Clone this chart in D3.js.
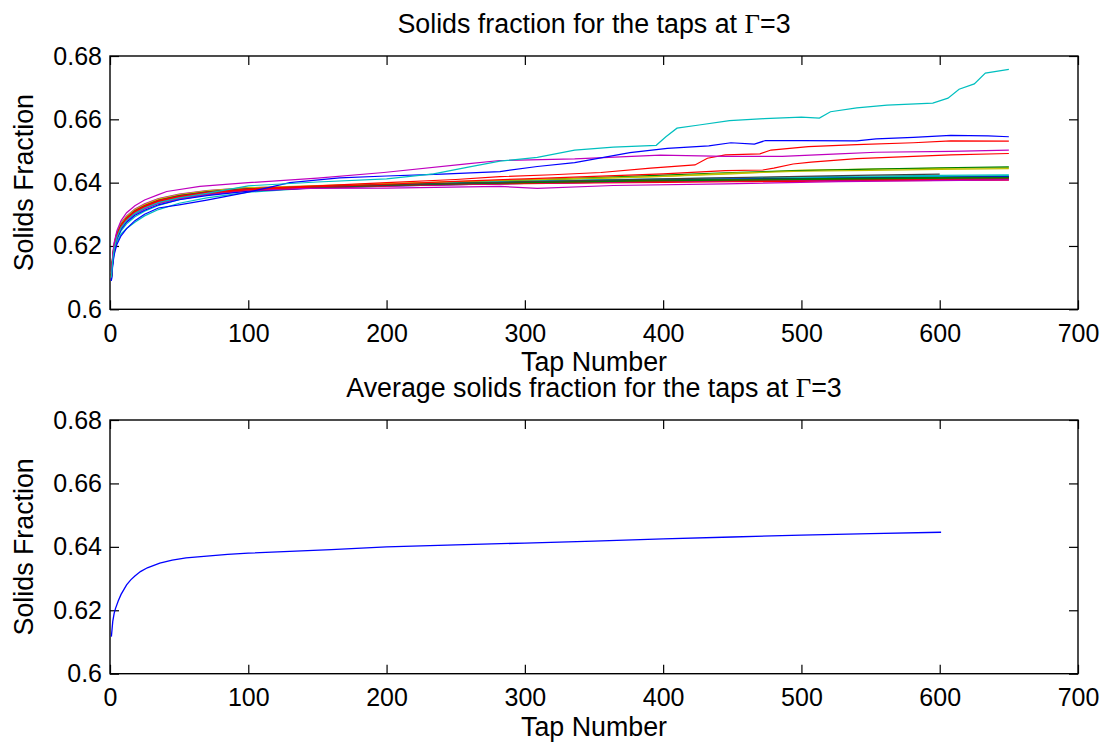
<!DOCTYPE html>
<html>
<head>
<meta charset="utf-8">
<script src="https://cdn.jsdelivr.net/npm/d3@7"></script>
<style>
  html, body { margin: 0; padding: 0; background: #fff; }
  text { font-family: "Liberation Sans", Arial, Helvetica, sans-serif; fill: #000; }
</style>
</head>
<body>
<svg id="chart" width="1104" height="744"></svg>
<script>
// taps shared by the bundle of runs
const bundleTaps = [1, 2, 3, 5, 8, 12, 18, 25, 35, 50, 70, 100, 150, 200, 250, 300, 350, 400, 450, 500, 550, 600, 650];

// runs that stay inside the bundle (colour name, values at bundleTaps)
const bundleRuns = [
  ["g", [0.6110, 0.6168, 0.6203, 0.6239, 0.6268, 0.6290, 0.6312, 0.6328, 0.6345, 0.6360, 0.6371, 0.6381, 0.6388, 0.6394, 0.6399, 0.6403, 0.6407, 0.6410, 0.6412, 0.6414, 0.6416, 0.6418, 0.6420]],
  ["r", [0.6100, 0.6162, 0.6199, 0.6236, 0.6266, 0.6288, 0.6310, 0.6326, 0.6343, 0.6358, 0.6369, 0.6379, 0.6386, 0.6391, 0.6396, 0.6399, 0.6402, 0.6405, 0.6407, 0.6409, 0.6411, 0.6412, 0.6414]],
  ["c", [0.6095, 0.6145, 0.6178, 0.6212, 0.6238, 0.6255, 0.6275, 0.6295, 0.6315, 0.6335, 0.6352, 0.6370, 0.6384, 0.6393, 0.6398, 0.6403, 0.6407, 0.6410, 0.6413, 0.6415, 0.6418, 0.6420, 0.6422]],
  ["m", [0.6115, 0.6172, 0.6208, 0.6243, 0.6273, 0.6295, 0.6317, 0.6333, 0.6350, 0.6364, 0.6375, 0.6384, 0.6389, 0.6393, 0.6396, 0.6399, 0.6401, 0.6403, 0.6405, 0.6406, 0.6407, 0.6409, 0.6410]],
  ["y", [0.6105, 0.6163, 0.6198, 0.6235, 0.6264, 0.6287, 0.6309, 0.6325, 0.6342, 0.6357, 0.6369, 0.6380, 0.6389, 0.6396, 0.6402, 0.6407, 0.6413, 0.6420, 0.6428, 0.6440, 0.6443, 0.6445, 0.6447]],
  ["k", [0.6102, 0.6157, 0.6193, 0.6230, 0.6260, 0.6283, 0.6305, 0.6321, 0.6338, 0.6353, 0.6365, 0.6376, 0.6385, 0.6391, 0.6396, 0.6400, 0.6404, 0.6407, 0.6410, 0.6412, 0.6414, 0.6416, 0.6418]],
  ["b", [0.6090, 0.6155, 0.6195, 0.6232, 0.6262, 0.6285, 0.6307, 0.6323, 0.6340, 0.6355, 0.6367, 0.6377, 0.6384, 0.6389, 0.6394, 0.6398, 0.6401, 0.6404, 0.6406, 0.6408, 0.6410, 0.6411, 0.6412]],
  ["g", [0.6108, 0.6158, 0.6191, 0.6228, 0.6258, 0.6281, 0.6303, 0.6319, 0.6336, 0.6351, 0.6364, 0.6376, 0.6386, 0.6394, 0.6401, 0.6408, 0.6416, 0.6424, 0.6432, 0.6438, 0.6443, 0.6447, 0.6450]],
  ["r", [0.6112, 0.6168, 0.6203, 0.6239, 0.6269, 0.6291, 0.6313, 0.6329, 0.6346, 0.6360, 0.6372, 0.6381, 0.6387, 0.6391, 0.6394, 0.6397, 0.6399, 0.6401, 0.6403, 0.6404, 0.6406, 0.6407, 0.6408]],
  ["c", [0.6098, 0.6152, 0.6186, 0.6220, 0.6248, 0.6270, 0.6292, 0.6310, 0.6328, 0.6346, 0.6361, 0.6376, 0.6388, 0.6395, 0.6401, 0.6405, 0.6409, 0.6412, 0.6415, 0.6418, 0.6421, 0.6423, 0.6425]],
  ["m", [0.6100, 0.6153, 0.6189, 0.6226, 0.6256, 0.6279, 0.6301, 0.6317, 0.6334, 0.6349, 0.6362, 0.6374, 0.6383, 0.6389, 0.6394, 0.6398, 0.6401, 0.6404, 0.6406, 0.6408, 0.6410, 0.6412, 0.6414]],
  ["y", [0.6113, 0.6170, 0.6205, 0.6241, 0.6271, 0.6293, 0.6315, 0.6331, 0.6348, 0.6362, 0.6374, 0.6384, 0.6391, 0.6397, 0.6403, 0.6409, 0.6414, 0.6420, 0.6430, 0.6436, 0.6439, 0.6442, 0.6444]],
  ["k", [0.6106, 0.6165, 0.6200, 0.6237, 0.6266, 0.6289, 0.6311, 0.6327, 0.6344, 0.6359, 0.6371, 0.6381, 0.6388, 0.6393, 0.6397, 0.6400, 0.6403, 0.6406, 0.6409, 0.6411, 0.6413, 0.6414, 0.6416]],
  ["b", [0.6092, 0.6148, 0.6184, 0.6222, 0.6252, 0.6275, 0.6297, 0.6313, 0.6330, 0.6346, 0.6359, 0.6373, 0.6384, 0.6391, 0.6397, 0.6401, 0.6405, 0.6408, 0.6411, 0.6413, 0.6415, 0.6417, 0.6419]],
  ["g", [0.6104, 0.6161, 0.6196, 0.6233, 0.6263, 0.6286, 0.6308, 0.6324, 0.6341, 0.6356, 0.6368, 0.6379, 0.6387, 0.6393, 0.6398, 0.6402, 0.6405, 0.6408, 0.6410, 0.6412, 0.6414, 0.6416, 0.6417]],
  ["r", [0.6101, 0.6157, 0.6192, 0.6229, 0.6259, 0.6282, 0.6304, 0.6320, 0.6337, 0.6352, 0.6365, 0.6376, 0.6384, 0.6390, 0.6395, 0.6398, 0.6402, 0.6405, 0.6407, 0.6409, 0.6410, 0.6411, 0.6412]],
  ["g", [0.6107, 0.6160, 0.6194, 0.6231, 0.6261, 0.6284, 0.6306, 0.6322, 0.6339, 0.6354, 0.6366, 0.6377, 0.6385, 0.6391, 0.6396, 0.6400, 0.6403, 0.6406, 0.6408, 0.6410, 0.6412, 0.6414, 0.6415]]
];

// runs that leave the bundle, each with its own taps
const grayTaps = [1, 2, 3, 5, 8, 12, 18, 25, 35, 50, 70, 100, 150, 200, 250, 300, 350, 400, 450, 500, 550, 600];
const grayRun = [0.6103, 0.6160, 0.6196, 0.6233, 0.6263, 0.6286, 0.6308, 0.6324, 0.6341, 0.6356, 0.6368, 0.6378, 0.6386, 0.6392, 0.6398, 0.6403, 0.6407, 0.6412, 0.6416, 0.6420, 0.6424, 0.6427];

const magLowTaps = [1, 2, 3, 5, 8, 12, 18, 25, 35, 50, 70, 100, 137, 200, 282, 309, 364, 445, 527, 650];
const magLowRun = [0.6102, 0.6158, 0.6193, 0.6230, 0.6260, 0.6283, 0.6305, 0.6321, 0.6338, 0.6353, 0.6365, 0.6376, 0.6382, 0.6383, 0.6388, 0.6382, 0.6391, 0.6396, 0.6403, 0.6409];

const red2Taps = [1, 2, 3, 5, 8, 12, 18, 25, 35, 50, 70, 100, 150, 200, 250, 300, 350, 400, 445, 472, 480, 494, 507, 540, 581, 608, 650];
const red2Run = [0.6098, 0.6158, 0.6194, 0.6231, 0.6262, 0.6285, 0.6307, 0.6323, 0.6340, 0.6355, 0.6367, 0.6378, 0.6387, 0.6395, 0.6404, 0.6412, 0.6420, 0.6428, 0.6438, 0.6440, 0.6446, 0.6459, 0.6465, 0.6476, 0.6483, 0.6488, 0.6492];

const red1Taps = [1, 2, 3, 5, 8, 12, 18, 25, 35, 50, 70, 100, 150, 200, 250, 282, 320, 355, 391, 423, 432, 445, 470, 478, 505, 540, 581, 608, 650];
const red1Run = [0.6105, 0.6163, 0.6198, 0.6236, 0.6265, 0.6288, 0.6310, 0.6326, 0.6343, 0.6357, 0.6369, 0.6380, 0.6390, 0.6400, 0.6410, 0.6419, 0.6425, 0.6432, 0.6446, 0.6456, 0.6477, 0.6488, 0.6491, 0.6503, 0.6514, 0.6520, 0.6526, 0.6532, 0.6531];

const magUpTaps = [1, 2, 3, 5, 8, 12, 18, 25, 35, 41, 65, 100, 150, 198, 258, 282, 336, 398, 445, 486, 527, 554, 608, 650];
const magUpRun = [0.6110, 0.6172, 0.6210, 0.6248, 0.6280, 0.6305, 0.6327, 0.6345, 0.6362, 0.6372, 0.6388, 0.6400, 0.6414, 0.6432, 0.6459, 0.6470, 0.6475, 0.6487, 0.6483, 0.6483, 0.6491, 0.6496, 0.6499, 0.6503];

const blueTaps = [1, 2, 3, 5, 8, 12, 18, 25, 35, 50, 70, 100, 130, 166, 200, 240, 282, 309, 336, 376, 403, 433, 449, 466, 474, 500, 540, 554, 581, 608, 635, 650];
const blueRun = [0.6090, 0.6140, 0.6172, 0.6205, 0.6232, 0.6255, 0.6280, 0.6300, 0.6320, 0.6330, 0.6345, 0.6370, 0.6400, 0.6415, 0.6421, 0.6427, 0.6435, 0.6451, 0.6463, 0.6495, 0.6508, 0.6516, 0.6526, 0.6522, 0.6533, 0.6533, 0.6532, 0.6538, 0.6543, 0.6549, 0.6548, 0.6545];

const cyanTaps = [1, 2, 3, 5, 8, 12, 18, 25, 35, 50, 70, 100, 150, 200, 234, 260, 282, 309, 336, 364, 395, 402, 410, 426, 448, 473, 500, 513, 521, 540, 562, 595, 606, 614, 625, 633, 650];
const cyanRun = [0.6100, 0.6155, 0.6190, 0.6228, 0.6258, 0.6281, 0.6303, 0.6320, 0.6337, 0.6352, 0.6366, 0.6390, 0.6402, 0.6412, 0.6428, 0.6450, 0.6468, 0.6480, 0.6503, 0.6512, 0.6518, 0.6545, 0.6572, 0.6582, 0.6596, 0.6602, 0.6607, 0.6604, 0.6624, 0.6636, 0.6645, 0.6651, 0.6667, 0.6695, 0.6712, 0.6746, 0.6758];

// average of the runs
const avgTaps = [1, 2, 3, 4, 6, 8, 10, 12, 15, 18, 22, 27, 36, 45, 55, 70, 85, 100, 130, 160, 200, 250, 300, 350, 400, 450, 500, 550, 601];
const avgValues = [0.6117, 0.6165, 0.6190, 0.6206, 0.6230, 0.6250, 0.6265, 0.6280, 0.6296, 0.6308, 0.6322, 0.6334, 0.6349, 0.6358, 0.6365, 0.6371, 0.6376, 0.6380, 0.6386, 0.6391, 0.6400, 0.6406, 0.6412, 0.6418, 0.6425, 0.6431, 0.6437, 0.6442, 0.6446];

// axis ticks
const xTicks = [0, 100, 200, 300, 400, 500, 600, 700];
const yTicks = [0.6, 0.62, 0.64, 0.66, 0.68];

// MATLAB colour order
const colors = { b: "#0000ff", g: "#008000", r: "#ff0000", c: "#00bfbf", m: "#bf00bf", y: "#bfbf00", k: "#404040" };

const svg = d3.select("#chart");
svg.append("rect").attr("width", 1104).attr("height", 744).attr("fill", "#fff");

const left = 110, right = 1078;
const tickFont = 25;
const labelFont = 26.8;

// draws one set of axes and returns its scales
function drawAxes(yTop, yBottom, title) {
    const x = d3.scaleLinear().domain([0, 700]).range([left, right]);
    const y = d3.scaleLinear().domain([0.6, 0.68]).range([yBottom, yTop]);
    const g = svg.append("g");

    const fmt = (d) => String(+d.toFixed(2));

    g.append("g")
        .attr("transform", `translate(0,${yBottom})`)
        .call(d3.axisBottom(x).tickValues(xTicks).tickSize(-9).tickPadding(15))
        .call(styleAxis);
    g.append("g")
        .attr("transform", `translate(0,${yTop})`)
        .call(d3.axisTop(x).tickValues(xTicks).tickSize(-9).tickFormat(""))
        .call(styleAxis);
    g.append("g")
        .attr("transform", `translate(${left},0)`)
        .call(d3.axisLeft(y).tickValues(yTicks).tickSize(-9).tickPadding(8).tickFormat(fmt))
        .call(styleAxis);
    g.append("g")
        .attr("transform", `translate(${right},0)`)
        .call(d3.axisRight(y).tickValues(yTicks).tickSize(-9).tickFormat(""))
        .call(styleAxis);

    // box
    g.append("rect")
        .attr("x", left).attr("y", yTop)
        .attr("width", right - left).attr("height", yBottom - yTop)
        .attr("fill", "none").attr("stroke", "#000").attr("stroke-width", 1.4);

    // title with the Greek Gamma in a serif face
    const t = g.append("text")
        .attr("x", (left + right) / 2).attr("y", yTop - 23)
        .attr("text-anchor", "middle").style("font-size", labelFont + "px");
    t.append("tspan").text(title + " ");
    t.append("tspan").style("font-family", "'Liberation Serif', 'DejaVu Serif', serif").text("Γ");
    t.append("tspan").text("=3");

    g.append("text")
        .attr("x", (left + right) / 2).attr("y", yBottom + 62)
        .attr("text-anchor", "middle").style("font-size", labelFont + "px")
        .text("Tap Number");

    g.append("text")
        .attr("transform", `translate(33,${(yTop + yBottom) / 2}) rotate(-90)`)
        .attr("text-anchor", "middle").style("font-size", labelFont + "px")
        .text("Solids Fraction");

    return { x, y };
}

function styleAxis(sel) {
    sel.select(".domain").remove();
    sel.selectAll(".tick line").attr("stroke", "#000").attr("stroke-width", 1.2);
    sel.selectAll(".tick text")
        .style("font-family", "'Liberation Sans', Arial, sans-serif")
        .style("font-size", tickFont + "px").attr("fill", "#000");
}

// top panel: every run
const topAx = drawAxes(56, 309.3, "Solids fraction for the taps at");
const lineTop = d3.line().x((d) => topAx.x(d[0])).y((d) => topAx.y(d[1]));

const runs = bundleRuns.map(([c, vals]) => ({ color: c, pts: bundleTaps.map((t, i) => [t, vals[i]]) }));
runs.push({ color: "k", pts: grayTaps.map((t, i) => [t, grayRun[i]]) });
runs.push({ color: "m", pts: magLowTaps.map((t, i) => [t, magLowRun[i]]) });
runs.push({ color: "r", pts: red2Taps.map((t, i) => [t, red2Run[i]]) });
runs.push({ color: "r", pts: red1Taps.map((t, i) => [t, red1Run[i]]) });
runs.push({ color: "m", pts: magUpTaps.map((t, i) => [t, magUpRun[i]]) });
runs.push({ color: "b", pts: blueTaps.map((t, i) => [t, blueRun[i]]) });
runs.push({ color: "c", pts: cyanTaps.map((t, i) => [t, cyanRun[i]]) });

svg.append("g").selectAll("path")
    .data(runs)
    .enter()
    .append("path")
    .attr("fill", "none")
    .attr("stroke", (d) => colors[d.color])
    .attr("stroke-width", 1.2)
    .attr("d", (d) => lineTop(d.pts));

// bottom panel: the average
const botAx = drawAxes(420, 673.7, "Average solids fraction for the taps at");
const lineBot = d3.line().x((d) => botAx.x(d[0])).y((d) => botAx.y(d[1]));

svg.append("path")
    .datum(avgTaps.map((t, i) => [t, avgValues[i]]))
    .attr("fill", "none")
    .attr("stroke", colors.b)
    .attr("stroke-width", 1.3)
    .attr("d", lineBot);
</script>
</body>
</html>
